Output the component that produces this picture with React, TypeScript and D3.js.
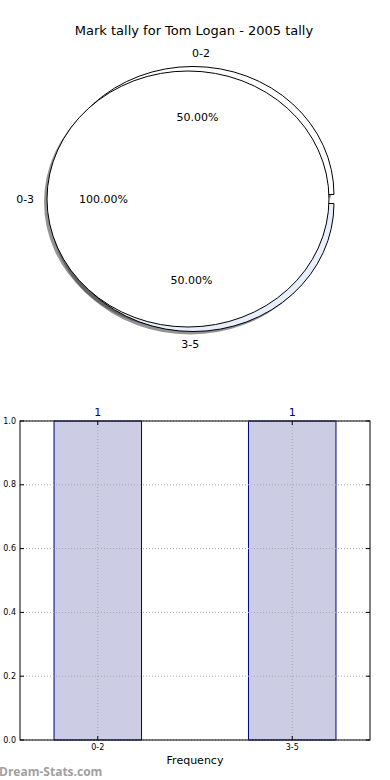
import React from "react";
import * as d3 from "d3";

const title = "Mark tally for Tom Logan - 2005 tally";

// pie: slice labels and the percentages printed on them
const sliceLabels = ["0-2", "0-3", "3-5"];
const slicePercents = [50, 100, 50];
const sliceColors = ["#ffffff", "#ffffff", "#e8eefb"];
const explode = [0.05, 0, 0.05];
const explodeDeg = [45, 0, -45];
const labelDeg = [87, 180, 269];

// bars
const barCategories = ["0-2", "3-5"];
const barValues = [1, 1];
const yTicks = [0, 0.2, 0.4, 0.6, 0.8, 1.0];

const W = 390;
const H = 780;
const font = "DejaVu Sans, Verdana, sans-serif";

const Pie: React.FC = () => {
  const cx = 188;
  const cy = 199;
  const rx = 141;
  const ry = 128;

  // turns -> d3 arc angles (matplotlib counts counter-clockwise from +x)
  const cum = d3.cumsum(slicePercents.map((p) => p / 100));
  const slices = slicePercents.map((p, i) => {
    const t2 = cum[i];
    const t1 = t2 - p / 100;
    const th1 = t1 * 2 * Math.PI;
    const th2 = t2 * 2 * Math.PI;
    const ed = (explodeDeg[i] * Math.PI) / 180;
    return {
      label: sliceLabels[i],
      pct: p,
      color: sliceColors[i],
      start: Math.PI / 2 - th2,
      end: Math.PI / 2 - th1,
      dx: explode[i] * rx * Math.cos(ed),
      dy: -explode[i] * ry * Math.sin(ed),
      lab: (labelDeg[i] * Math.PI) / 180,
    };
  });

  const arc = d3.arc<any>().innerRadius(0).outerRadius(1);
  const path = (s: any) => arc({ startAngle: s.start, endAngle: s.end }) as string;

  const drawOrder = [0, 2, 1];

  return (
    <g>
      {/* shadows */}
      {drawOrder.map((i) => {
        const s = slices[i];
        return (
          <path
            key={"sh" + i}
            d={path(s)}
            transform={`translate(${cx + s.dx - 3},${cy + s.dy + 3}) scale(${rx},${ry})`}
            fill="#3d3d3d"
            fillOpacity={0.55}
          />
        );
      })}
      {drawOrder.map((i) => {
        const s = slices[i];
        return (
          <path
            key={"w" + i}
            d={path(s)}
            transform={`translate(${cx + s.dx},${cy + s.dy}) scale(${rx},${ry})`}
            fill={s.color}
            stroke="#000"
            strokeWidth={1}
            vectorEffect="non-scaling-stroke"
          />
        );
      })}
      {slices.map((s, i) => (
        <text
          key={"l" + i}
          x={cx + s.dx + 1.1 * rx * Math.cos(s.lab) * (i === 1 ? 1.05 : 1)}
          y={cy + s.dy - 1.1 * ry * Math.sin(s.lab)}
          textAnchor="middle"
          dominantBaseline="central"
          fontSize={11}
          fontFamily={font}
        >
          {s.label}
        </text>
      ))}
      {slices.map((s, i) => (
        <text
          key={"p" + i}
          x={cx + s.dx + 0.6 * rx * Math.cos(s.lab)}
          y={cy + s.dy - 0.6 * ry * Math.sin(s.lab)}
          textAnchor="middle"
          dominantBaseline="central"
          fontSize={11}
          fontFamily={font}
        >
          {s.pct.toFixed(2)}%
        </text>
      ))}
    </g>
  );
};

const Bars: React.FC = () => {
  const left = 20;
  const right = 370;
  const top = 421;
  const bottom = 740;
  const x = d3.scaleLinear().domain([-0.4, 1.4]).range([left, right]);
  const y = d3.scaleLinear().domain([0, 1]).range([bottom, top]);
  const bw = 0.45;
  const grid = "#a8a8a8";

  return (
    <g>
      {barCategories.map((c, i) => (
        <rect
          key={c}
          x={x(i - bw / 2)}
          y={y(barValues[i])}
          width={x(bw) - x(0)}
          height={y(0) - y(barValues[i])}
          fill="#ccccE5"
          stroke="#000080"
          strokeWidth={1}
        />
      ))}
      {yTicks.map((t) => (
        <g key={"g" + t}>
          <line x1={left} x2={right} y1={y(t)} y2={y(t)} stroke={grid} strokeDasharray="1,2" />
          <line x1={left} x2={left + 4} y1={y(t)} y2={y(t)} stroke="#000" />
          <line x1={right - 4} x2={right} y1={y(t)} y2={y(t)} stroke="#000" />
          <text x={left - 4} y={y(t)} textAnchor="end" dominantBaseline="central" fontSize={8} fontFamily={font}>
            {t.toFixed(1)}
          </text>
        </g>
      ))}
      {barCategories.map((c, i) => (
        <g key={"x" + c}>
          <line x1={x(i)} x2={x(i)} y1={top} y2={bottom} stroke={grid} strokeDasharray="1,2" />
          <line x1={x(i)} x2={x(i)} y1={bottom - 4} y2={bottom} stroke="#000" />
          <line x1={x(i)} x2={x(i)} y1={top} y2={top + 4} stroke="#000" />
          <text x={x(i)} y={bottom + 7} textAnchor="middle" dominantBaseline="central" fontSize={8} fontFamily={font}>
            {c}
          </text>
          <text x={x(i)} y={y(barValues[i]) - 9} textAnchor="middle" dominantBaseline="central" fontSize={11} fill="#000080" fontFamily={font}>
            {barValues[i]}
          </text>
        </g>
      ))}
      <rect x={left} y={top} width={right - left} height={bottom - top} fill="none" stroke="#000" strokeWidth={1} />
      <text x={(left + right) / 2} y={760} textAnchor="middle" dominantBaseline="central" fontSize={11} fontFamily={font}>
        Frequency
      </text>
    </g>
  );
};

export default function App() {
  return (
    <svg
      width={W}
      height={H}
      viewBox={`0 0 ${W} ${H}`}
      style={{ position: "absolute", left: 0, top: 0, background: "#fff" }}
    >
      <rect width={W} height={H} fill="#fff" />
      <text x={194} y={30} textAnchor="middle" dominantBaseline="central" fontSize={13} fontFamily={font}>
        {title}
      </text>
      <Pie />
      <Bars />
      <text x={-1} y={771} dominantBaseline="central" fontSize={12} fontWeight="bold" fill="#a0a0a0" fontFamily="Open Sans, sans-serif">
        Dream-Stats.com
      </text>
    </svg>
  );
}
